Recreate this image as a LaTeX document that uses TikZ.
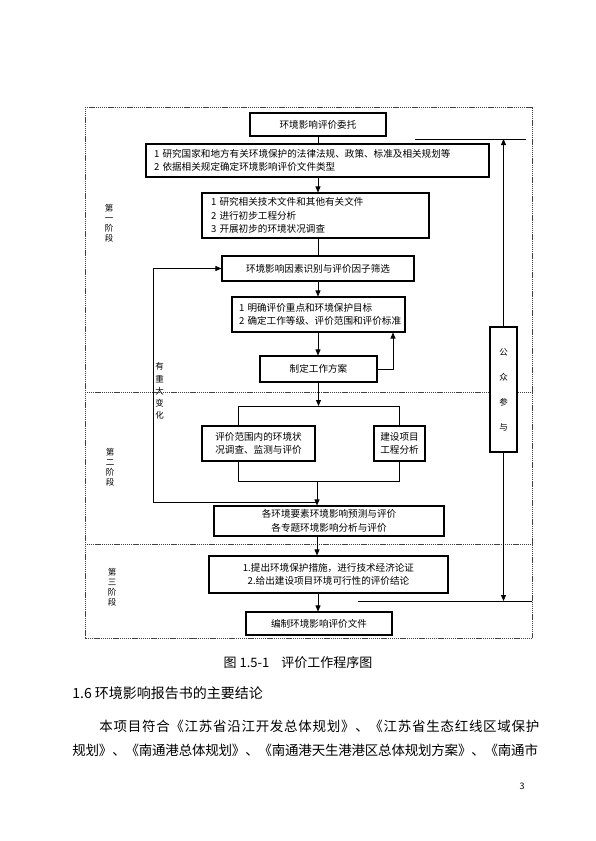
\documentclass[tikz,border=0pt]{standalone}
\usepackage{fontspec}
\setmainfont{Noto Sans CJK SC}
\usetikzlibrary{arrows.meta,positioning,calc}

\begin{document}
\begin{tikzpicture}[x=1pt, y=-1pt, line width=0.8pt,
  every node/.style={font=\fontsize{9.6}{13.5}\selectfont, inner sep=0pt},
  box/.style={draw, line width=1.1pt, align=center},
  leftbox/.style={box, align=left},
  vlabel/.style={align=center, font=\fontsize{8.5}{10}\selectfont},
  frame/.style={line width=0.9pt, black!75, dash pattern=on 1.2pt off 0.7pt},
  arr/.style={-{Stealth[length=6pt,width=5pt,inset=0pt]}}]
  \useasboundingbox (0,0) rectangle (595,841);
  \draw[frame] (85,107) rectangle (532,638);
  \draw[frame] (85,392) -- (532,392);
  \draw[frame] (85,544) -- (532,544);

  \node[box, minimum width=136, minimum height=23] (entrust) at (318,124.5) {环境影响评价委托};
  \node[leftbox, text width=327, inner xsep=8pt, minimum height=33] (laws) at (317.5,160.5) {1~研究国家和地方有关环境保护的法律法规、政策、标准及相关规划等\\2~依据相关规定确定环境影响评价文件类型};
  \node[leftbox, text width=209, inner xsep=9pt, minimum height=45] (docs) at (315.5,215.5) {1~研究相关技术文件和其他有关文件\\2~进行初步工程分析\\3~开展初步的环境状况调查};
  \node[box, minimum width=192, minimum height=25] (factors) at (318,268.5) {环境影响因素识别与评价因子筛选};
  \node[leftbox, text width=159, inner xsep=7pt, minimum height=35] (targets) at (318.5,314.5) {1~明确评价重点和环境保护目标\\2~确定工作等级、评价范围和评价标准};
  \node[box, minimum width=117, minimum height=26] (plan) at (318.5,369) {制定工作方案};
  \node[box, minimum width=113, minimum height=35] (survey) at (258.5,443.5) {评价范围内的环境状\\况调查、监测与评价};
  \node[box, minimum width=51, minimum height=35] (project) at (399.5,443.5) {建设项目\\工程分析};
  \node[box, minimum width=230, minimum height=30] (predict) at (329,521) {各环境要素环境影响预测与评价\\各专题环境影响分析与评价};
  \node[box, minimum width=239, minimum height=37] (measures) at (328.5,574.5) {1.提出环境保护措施，进行技术经济论证\\2.给出建设项目环境可行性的评价结论};
  \node[box, minimum width=146, minimum height=23] (report) at (319,623.5) {编制环境影响评价文件};
  \node[box, fill=white, minimum width=27, minimum height=125, font=\fontsize{8.5}{25}\selectfont] (public) at (503.5,389.5) {公\\众\\参\\与};

  \node[vlabel] (stage1) at (109,223) {第\\一\\阶\\段};
  \node[vlabel] (stage2) at (110,467) {第\\二\\阶\\段};
  \node[vlabel] (stage3) at (112,587.5) {第\\三\\阶\\段};
  \node[vlabel, font=\fontsize{8.5}{12.2}\selectfont] (change) at (159.5,391) {有\\重\\大\\变\\化};

  \coordinate (trunk) at (318,0);
  \coordinate (lowtrunk) at (317,0);
  \coordinate (backR) at (393,0);
  \coordinate (split) at (318.5,406);
  \coordinate (splitL) at (238,406);
  \coordinate (splitR) at (399.5,406);
  \coordinate (joinL) at (238,481);
  \coordinate (joinR) at (399.5,481);
  \coordinate (join) at (317,481);
  \coordinate (loopB) at (153,502);
  \coordinate (feedTL) at (415,139);
  \coordinate (feedTR) at (526,139);
  \coordinate (feedBL) at (358,601);
  \coordinate (feedBR) at (532,601);

  \draw (entrust.south) -- (entrust.south |- laws.north);
  \draw[arr] (laws.south -| trunk) -- (docs.north -| trunk);
  \draw (docs.south -| trunk) -- (factors.north -| trunk);
  \draw[arr] (factors.south -| trunk) -- (targets.north -| trunk);
  \draw[arr] (targets.south -| trunk) -- (plan.north -| trunk);
  \draw[arr] (plan.east) -| (targets.south -| backR);
  \draw[arr] (plan.south -| split) -- (split);
  \draw (survey.north -| splitL) -- (splitL) -- (splitR) -- (project.north -| splitR);
  \draw (survey.south -| joinL) -- (joinL) -- (joinR) -- (project.south -| joinR);
  \draw[arr] (join) -- (predict.north -| join);
  \draw[arr] (loopB -| join) -- (loopB) |- (factors.west);
  \draw[arr] (predict.south -| lowtrunk) -- (measures.north -| lowtrunk);
  \draw[arr] (measures.south -| trunk) -- (report.north -| trunk);
  \draw (feedTL) -- (feedTR);
  \draw[arr] (public.north) -- (public.north |- feedTL);
  \draw (feedBL) -- (feedBR);
  \draw[arr] (public.south) -- (public.south |- feedBL);

  \node[font=\fontsize{13}{16}\selectfont] (caption) at (298,663) {图 1.5-1\hspace{12pt}评价工作程序图};
  \node[anchor=west, font=\fontsize{14}{18}\selectfont] (heading) at (72,693) {1.6 环境影响报告书的主要结论};
  \node[anchor=west, font=\fontsize{13.5}{18}\selectfont\addfontfeature{LetterSpace=5.3}] (para1) at (99,726) {本项目符合《江苏省沿江开发总体规划》、《江苏省生态红线区域保护};
  \node[anchor=west, font=\fontsize{13.5}{18}\selectfont\addfontfeature{LetterSpace=-1.5}] (para2) at (72,750) {规划》、《南通港总体规划》、《南通港天生港港区总体规划方案》、《南通市};
  \node[font=\fontsize{9}{11}\selectfont] (pageno) at (522,786) {3};
\end{tikzpicture}
\end{document}
